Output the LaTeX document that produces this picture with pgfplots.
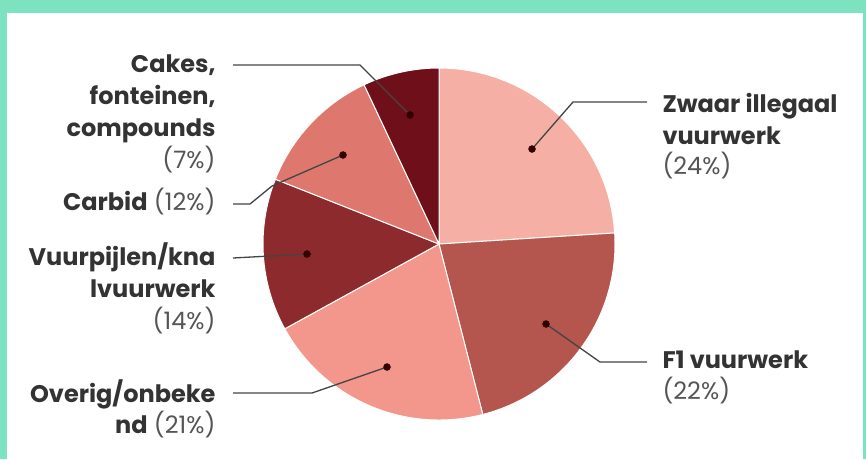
\documentclass[border=0pt]{standalone}
\usepackage{pgfplots}
\pgfplotsset{compat=1.18}
\usepackage{fontspec}
\setmainfont{Poppins}

\definecolor{mint}{HTML}{7DE2C0}
\definecolor{zwaar}{HTML}{F5AFA5}
\definecolor{fone}{HTML}{B4554E}
\definecolor{overig}{HTML}{F3968C}
\definecolor{pijl}{HTML}{8C2A2D}
\definecolor{carbid}{HTML}{DE786E}
\definecolor{cakes}{HTML}{6E0F19}
\definecolor{txt}{HTML}{333333}
\definecolor{pct}{HTML}{555555}
\definecolor{lead}{HTML}{444444}

% slice: cumulative % before it, its %, colour
\newcommand{\slice}[3]{%
  \fill[#3, draw=white, line width=1pt] (axis cs:439,244)
    -- (axis cs:{439+176*cos(90-3.6*#1)},{244-176*sin(90-3.6*#1)})
    arc[start angle={90-3.6*#1}, end angle={90-3.6*(#1+#2)}, radius=176pt]
    -- cycle;}

\newcommand{\lab}{\fontsize{24}{32}\selectfont}

\begin{document}
\begin{tikzpicture}
\begin{axis}[
    x=1pt, y=1pt,
    xmin=0, xmax=866, ymin=0, ymax=459,
    y dir=reverse,
    hide axis, clip=false,
]
% frame
\fill[mint] (axis cs:0,0) rectangle (axis cs:866,459);
\fill[white] (axis cs:7,13) rectangle (axis cs:863,459);

% pie
\slice{0}{24}{zwaar}
\slice{24}{22}{fone}
\slice{46}{21}{overig}
\slice{67}{14}{pijl}
\slice{81}{12}{carbid}
\slice{93}{7}{cakes}

% leader lines
\addplot[lead, line width=1.3pt] coordinates {(532,149) (573,102) (647,102)};
\addplot[lead, line width=1.3pt] coordinates {(546,324) (600,362) (647,362)};
\addplot[lead, line width=1.3pt] coordinates {(387,367) (312,393) (233,393)};
\addplot[lead, line width=1.3pt] coordinates {(307,254) (233,258)};
\addplot[lead, line width=1.3pt] coordinates {(343,155) (272,186) (250,204) (233,204)};
\addplot[lead, line width=1.3pt] coordinates {(410,115) (360,65) (233,65)};
\addplot[only marks, mark=*, mark size=3.5pt, color=black!80!red] coordinates {
    (532,149) (546,324) (387,367) (307,254) (343,155) (410,115)};

% labels right
\node[anchor=base west, txt, font=\lab\bfseries] at (axis cs:659,112) {Zwaar illegaal};
\node[anchor=base west, txt, font=\lab\bfseries] at (axis cs:659,144) {vuurwerk};
\node[anchor=base west, pct, font=\lab] at (axis cs:659,174) {(24\%)};
\node[anchor=base west, txt, font=\lab\bfseries] at (axis cs:659,368) {F1 vuurwerk};
\node[anchor=base west, pct, font=\lab] at (axis cs:659,399) {(22\%)};

% labels left
\node[anchor=base east, txt, font=\lab\bfseries] at (axis cs:219,72) {Cakes,};
\node[anchor=base east, txt, font=\lab\bfseries] at (axis cs:219,104) {fonteinen,};
\node[anchor=base east, txt, font=\lab\bfseries] at (axis cs:219,136) {compounds};
\node[anchor=base east, pct, font=\lab] at (axis cs:219,168) {(7\%)};
\node[anchor=base east, txt, font=\lab] at (axis cs:219,210) {\textbf{Carbid} \textcolor{pct}{(12\%)}};
\node[anchor=base east, txt, font=\lab\bfseries] at (axis cs:219,265) {Vuurpijlen/kna};
\node[anchor=base east, txt, font=\lab\bfseries] at (axis cs:219,297) {lvuurwerk};
\node[anchor=base east, pct, font=\lab] at (axis cs:219,329) {(14\%)};
\node[anchor=base east, txt, font=\lab\bfseries] at (axis cs:219,402) {Overig/onbeke};
\node[anchor=base east, txt, font=\lab] at (axis cs:219,433) {\textbf{nd} \textcolor{pct}{(21\%)}};
\end{axis}
\end{tikzpicture}
\end{document}
